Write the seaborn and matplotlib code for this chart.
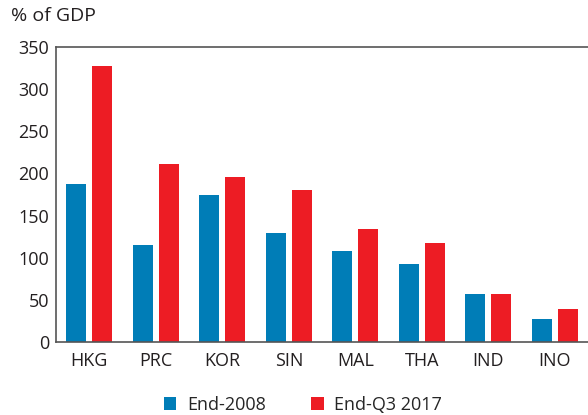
import seaborn as sns
import matplotlib.pyplot as plt
import numpy as np
import pandas as pd

# Data (% of GDP)
economies = ["HKG", "PRC", "KOR", "SIN", "MAL", "THA", "IND", "INO"]
end_2008 = [188, 115, 174, 129, 108, 93, 57, 27]
end_q3_2017 = [327, 211, 196, 180, 134, 117, 57, 39]
series_names = ["End-2008", "End-Q3 2017"]
colors = ["#007DB7", "#ED1C24"]

df = pd.DataFrame({
    "economy": economies * 2,
    "value": end_2008 + end_q3_2017,
    "period": [series_names[0]] * len(economies) + [series_names[1]] * len(economies),
})

sns.set_style("white")
plt.rcParams["font.family"] = ["Open Sans", "DejaVu Sans"]
fs = 13

fig = plt.figure(figsize=(5.88, 4.15), dpi=100)
ax = fig.add_axes([56 / 588, 1 - 342 / 415, 1 - 56 / 588, (342 - 47) / 415])

sns.barplot(data=df, x="economy", y="value", hue="period",
            palette=colors, saturation=1, width=0.78, gap=0.23, ax=ax,
            edgecolor="none", linewidth=0)

ax.set_xlim(-0.5, len(economies) - 0.5)
ax.set_ylim(0, 350)
ax.set_yticks(np.arange(0, 351, 50))
ax.set_xlabel("")
ax.set_ylabel("")

# tick marks between categories, pointing inward
ax.set_xticks(np.arange(0.5, len(economies) - 0.5, 1), minor=True)
ax.tick_params(axis="x", which="major", length=0, labelsize=fs, pad=7, colors="#231f20")
ax.tick_params(axis="x", which="minor", direction="in", length=4, width=1, color="#333333")
ax.tick_params(axis="y", length=2, width=1, labelsize=fs, pad=3, colors="#231f20", color="#555555")

for side in ["left", "bottom", "top"]:
    ax.spines[side].set_visible(True)
    ax.spines[side].set_color("#555555")
    ax.spines[side].set_linewidth(1.2)
ax.spines["right"].set_visible(False)

fig.text(11 / 588, 1 - 16 / 415, "% of GDP", fontsize=14, va="center", ha="left", color="#231f20")

handles, labels = ax.get_legend_handles_labels()
ax.legend_.remove()
fig.legend(handles, labels, loc="center", bbox_to_anchor=(303 / 588, 1 - 405 / 415),
           ncol=2, frameon=False, fontsize=fs, handlelength=0.7, handleheight=0.7,
           handletextpad=0.6, columnspacing=2.5)

fig.savefig("out.png", dpi=100)
